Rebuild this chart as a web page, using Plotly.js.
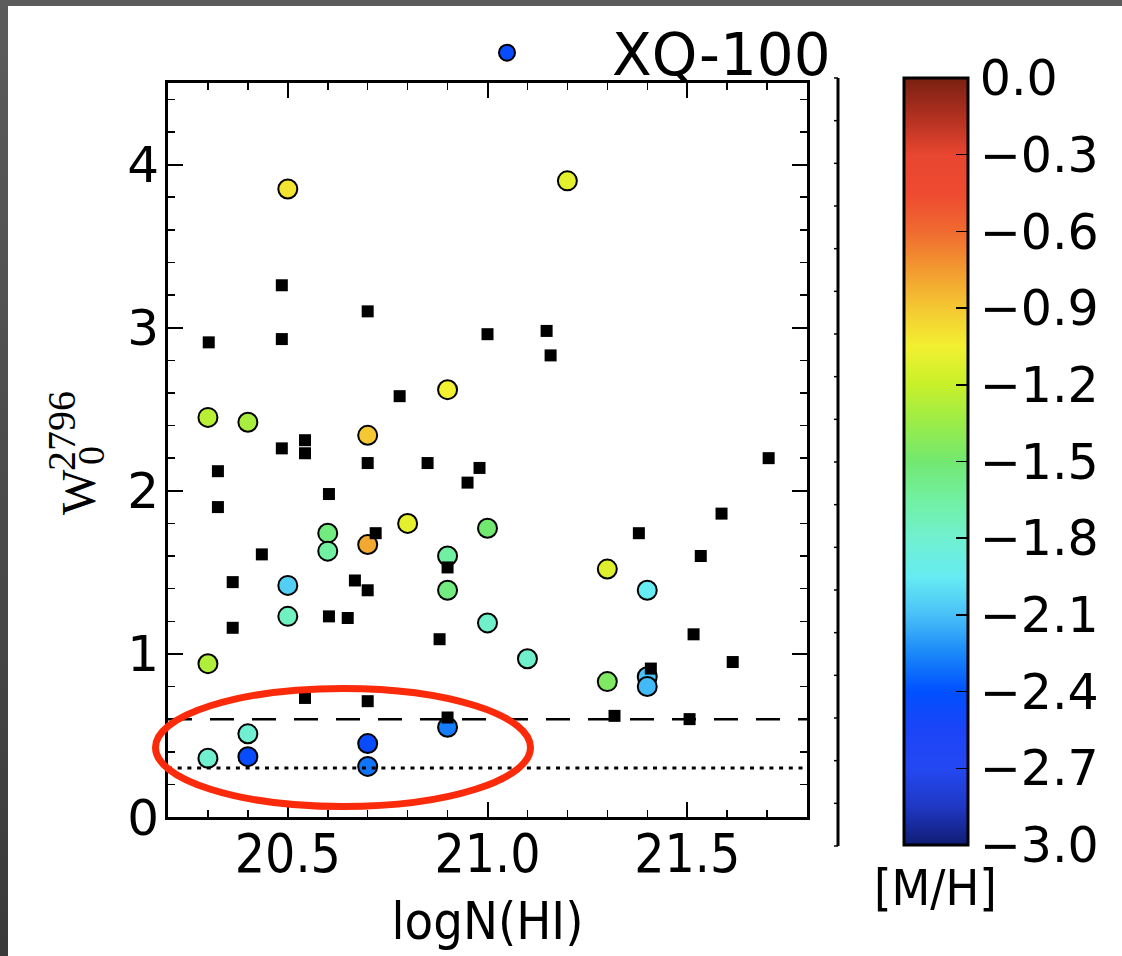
<!DOCTYPE html>
<html>
<head>
<meta charset="utf-8">
<script src="https://cdn.plot.ly/plotly-3.0.1.min.js"></script>
<style>
  html, body { margin: 0; padding: 0; width: 1122px; height: 956px; overflow: hidden;
    background: linear-gradient(to bottom, #5c5c5c, #3a3a3a); }
  #chart { position: absolute; left: 8px; top: 6px; width: 1114px; height: 950px; background: #fff; }
</style>
</head>
<body>
<div id="chart"></div>
<script>
// XQ-100 DLAs: log N(HI), Mg II 2796 rest equivalent width, metallicity [M/H]
const xqLogNHI = [20.40, 20.50, 21.20, 20.30, 20.40, 20.90, 20.70, 20.60, 20.60, 20.70,
                  20.80, 21.00, 20.90, 20.90, 20.50, 20.50, 21.00, 21.10, 21.30, 21.40,
                  21.30, 21.40, 21.40, 20.30, 20.40, 20.30, 20.70, 20.70, 20.90];
const xqW2796  = [0.37, 3.85, 3.90, 2.45, 2.42, 2.62, 2.34, 1.74, 1.63, 1.67,
                  1.80, 1.77, 1.60, 1.39, 1.42, 1.23, 1.19, 0.97, 1.52, 1.39,
                  0.83, 0.86, 0.80, 0.94, 0.51, 0.36, 0.45, 0.31, 0.55];
const xqMetal  = [-2.45, -1.00, -1.10, -1.25, -1.30, -1.05, -0.90, -1.55, -1.65, -0.80,
                  -1.10, -1.50, -1.65, -1.55, -2.05, -1.75, -1.78, -1.78, -1.12, -1.95,
                  -1.45, -2.10, -2.12, -1.28, -1.80, -1.80, -2.45, -2.30, -2.28];

// comparison sample (no metallicity)
const compLogNHI = [20.485, 20.302, 20.485, 20.70, 21.00, 21.148, 21.158, 20.78, 20.485, 20.543,
                    20.543, 20.325, 20.70, 20.85, 20.98, 20.95, 20.603, 20.325, 20.72, 20.435,
                    20.362, 20.668, 20.70, 20.90, 20.603, 20.65, 20.362, 20.88, 20.543, 20.70,
                    20.90, 21.704, 21.586, 21.379, 21.534, 21.516, 21.614, 21.409, 21.318, 21.506];
const compW2796  = [3.26, 2.91, 2.93, 3.10, 2.96, 2.98, 2.83, 2.58, 2.26, 2.31,
                    2.23, 2.12, 2.17, 2.17, 2.14, 2.05, 1.98, 1.90, 1.74, 1.61,
                    1.44, 1.45, 1.39, 1.53, 1.23, 1.22, 1.16, 1.09, 0.73, 0.71,
                    0.61, 2.20, 1.86, 1.74, 1.60, 1.12, 0.95, 0.91, 0.62, 0.60];

// reference equivalent-width levels
const wDashed = 0.6;
const wDotted = 0.3;

// metallicity colour bar ticks
const metalTicks = [0, -0.3, -0.6, -0.9, -1.2, -1.5, -1.8, -2.1, -2.4, -2.7, -3.0];
const metalTickText = ['0.0', '\u22120.3', '\u22120.6', '\u22120.9', '\u22121.2', '\u22121.5',
                       '\u22121.8', '\u22122.1', '\u22122.4', '\u22122.7', '\u22123.0'];

// colour map levels and colours
const cbLevels = [-3.0, -2.85, -2.7, -2.55, -2.4, -2.25, -2.1, -1.95, -1.8, -1.65, -1.5,
                  -1.35, -1.2, -1.05, -0.9, -0.75, -0.6, -0.45, -0.3, -0.15, 0];
const cbColors = ['#101c74', '#1f38c4', '#2448f2', '#1c44f8', '#0050ff', '#1a88f8', '#4ac0f8',
                  '#66ecf2', '#70f0d0', '#72f0a2', '#72e870', '#9aec48', '#c8f02a', '#f2f030',
                  '#f4c832', '#f29a30', '#f06a30', '#ee4a30', '#e84630', '#b03020', '#7a2012'];

const cMin = -3, cMax = 0;
const colorscale = cbLevels.map((v, i) => [(v - cMin) / (cMax - cMin), cbColors[i]]);

// plot-area pixel geometry helpers (plot area: x 168..807, y 83..817 on the page)
const PX0 = 168, PW = 639, PY1 = 817, PH = 734;
const xp = px => (px - PX0) / PW;
const yp = py => (PY1 - py) / PH;

const SANS = 'DejaVu Sans, sans-serif';
const COND = 'DejaVu Sans Condensed, Liberation Sans Narrow, DejaVu Sans, sans-serif';
const SERIF = 'Liberation Serif, DejaVu Serif, serif';

const xq = {
  type: 'scatter', mode: 'markers', name: 'XQ-100',
  x: xqLogNHI, y: xqW2796,
  marker: {
    symbol: 'circle', size: 19,
    color: xqMetal, colorscale: colorscale, cmin: cMin, cmax: cMax,
    line: { color: '#000', width: 2 },
    showscale: true,
    colorbar: {
      x: xp(904), xanchor: 'left', xpad: 0,
      y: yp(461.5), yanchor: 'middle', ypad: 0,
      len: 767, lenmode: 'pixels', thickness: 64, thicknessmode: 'pixels',
      outlinewidth: 3, outlinecolor: '#000',
      tickmode: 'array', tickvals: metalTicks, ticktext: metalTickText,
      ticks: 'inside', ticklen: 13, tickwidth: 1.5, tickcolor: '#000',
      tickfont: { family: SANS, size: 49, color: '#000' }
    }
  },
  hoverinfo: 'skip'
};

const comp = {
  type: 'scatter', mode: 'markers', name: 'comparison', showlegend: false,
  x: compLogNHI, y: compW2796,
  marker: { symbol: 'square', size: 12, color: '#000', line: { width: 0 } },
  hoverinfo: 'skip'
};

// side bracket with small ticks
const bracketX = xp(838), bracketTop = yp(78), bracketBot = yp(846);
const shapes = [
  { type: 'line', xref: 'paper', yref: 'y', x0: 0, x1: 1, y0: wDashed, y1: wDashed,
    line: { color: '#000', width: 2.5, dash: '24px,18px' }, layer: 'above' },
  { type: 'line', xref: 'paper', yref: 'y', x0: 0, x1: 1, y0: wDotted, y1: wDotted,
    line: { color: '#000', width: 3, dash: '4px,5.7px' }, layer: 'above' },
  { type: 'circle', xref: 'paper', yref: 'paper',
    x0: xp(155.5), x1: xp(530.5), y0: yp(806.5), y1: yp(688.5),
    line: { color: '#fa2a0a', width: 7 }, layer: 'above' },
  { type: 'line', xref: 'paper', yref: 'paper', x0: bracketX, x1: bracketX,
    y0: bracketBot, y1: bracketTop, line: { color: '#000', width: 3 }, layer: 'above' }
];
const nBracketTicks = 19;
for (let i = 0; i < nBracketTicks; i++) {
  const yy = bracketBot + (bracketTop - bracketBot) * i / (nBracketTicks - 1);
  shapes.push({ type: 'line', xref: 'paper', yref: 'paper',
    x0: bracketX - 4 / PW, x1: bracketX, y0: yy, y1: yy,
    line: { color: '#000', width: 1.5 }, layer: 'above' });
}

const annotations = [
  // y-axis title W_0^2796 (stacked sub/superscript)
  { xref: 'paper', yref: 'paper', x: xp(78), y: yp(492), text: 'W', textangle: -90,
    showarrow: false, xanchor: 'center', yanchor: 'middle',
    font: { family: SERIF, size: 48, color: '#000' } },
  { xref: 'paper', yref: 'paper', x: xp(61), y: yp(431), text: '2796', textangle: -90,
    showarrow: false, xanchor: 'center', yanchor: 'middle',
    font: { family: SERIF, size: 40, color: '#000' } },
  { xref: 'paper', yref: 'paper', x: xp(91), y: yp(456), text: '0', textangle: -90,
    showarrow: false, xanchor: 'center', yanchor: 'middle',
    font: { family: SERIF, size: 38, color: '#000' } },
  // colour bar label
  { xref: 'paper', yref: 'paper', x: xp(935), y: yp(888), text: '[M/H]',
    showarrow: false, xanchor: 'center', yanchor: 'middle',
    font: { family: COND, size: 50, color: '#000' } }
];

const layout = {
  width: 1114, height: 950,
  margin: { l: 160, r: 315, t: 77, b: 139, pad: 0, autoexpand: false },
  paper_bgcolor: '#fff', plot_bgcolor: '#fff',
  showlegend: true,
  legend: {
    x: xp(402), y: yp(53), xanchor: 'left', yanchor: 'middle',
    itemwidth: 200, bgcolor: 'rgba(0,0,0,0)', borderwidth: 0,
    font: { family: SANS, size: 58, color: '#000' }
  },
  xaxis: {
    range: [20.2, 21.8], tick0: 20.5, dtick: 0.5, tickformat: '.1f',
    ticks: 'inside', ticklen: 15, tickwidth: 2, tickcolor: '#000',
    minor: { dtick: 0.1, ticks: 'inside', ticklen: 7, tickwidth: 1.5, tickcolor: '#000' },
    showline: true, linewidth: 3, linecolor: '#000', mirror: 'ticks',
    showgrid: false, zeroline: false,
    tickfont: { family: COND, size: 53, color: '#000' },
    ticklabelstandoff: -12,
    title: { text: 'logN(HI)', standoff: 21, font: { family: COND, size: 52, color: '#000' } }
  },
  yaxis: {
    range: [0, 4.5], tick0: 0, dtick: 1,
    ticks: 'inside', ticklen: 15, tickwidth: 2, tickcolor: '#000',
    minor: { dtick: 0.2, ticks: 'inside', ticklen: 7, tickwidth: 1.5, tickcolor: '#000' },
    showline: true, linewidth: 3, linecolor: '#000', mirror: 'ticks',
    showgrid: false, zeroline: false,
    tickfont: { family: SANS, size: 50, color: '#000' },
    ticklabelstandoff: -4
  },
  shapes: shapes,
  annotations: annotations
};

Plotly.newPlot('chart', [xq, comp], layout, { displayModeBar: false, staticPlot: true });
</script>
</body>
</html>
